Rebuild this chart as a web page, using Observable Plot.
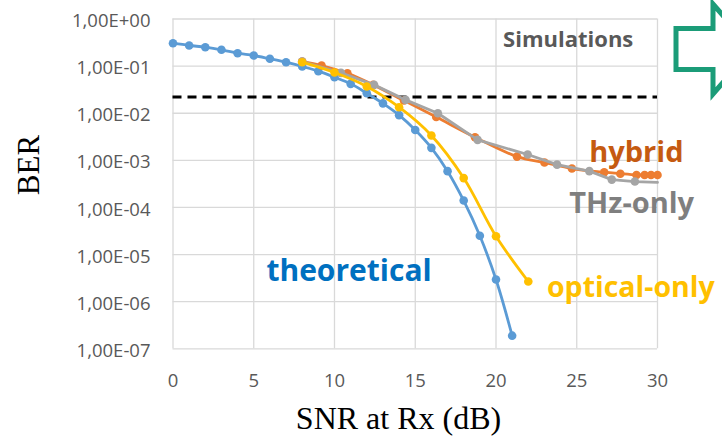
<!DOCTYPE html>
<html><head><meta charset="utf-8">
<script src="https://cdn.jsdelivr.net/npm/d3@7"></script>
<script src="https://cdn.jsdelivr.net/npm/@observablehq/plot@0.6"></script>
<style>
body{margin:0;background:#fff;}
#wrap{position:relative;width:722px;height:437px;overflow:hidden;background:#fff;}
.ttl{position:absolute;font-family:"Liberation Serif","Times New Roman",serif;color:#000;white-space:nowrap;}
#deco{position:absolute;left:0;top:0;pointer-events:none;}
</style></head><body><div id="wrap"></div>
<script>
// ---- data ----
const snrTheo = [0,1,2,3,4,5,6,7,8,9,10,11,12,13,14,15,16,17,18,19,20,21];
const berTheo = [0.306,0.274,0.252,0.222,0.188,0.168,0.143,0.121,0.098,0.078,0.058,0.042,0.0266,0.0162,0.0091,0.0044,0.00184,5.9e-4,1.4e-4,2.5e-5,2.95e-6,1.9e-7];

const snrOpt = [8,10,12,14,16,18,20,22];
const berOpt = [0.121,0.073,0.037,0.0134,0.00336,4.2e-4,2.45e-5,2.68e-6];

const snrThz = [8,10.4,12.45,14.4,16.4,18.86,21.96,23.78,25.78,27.17,28.6,30];
const berThz = [0.125,0.072,0.040,0.0192,0.0100,0.00272,0.00133,8.1e-4,5.9e-4,3.9e-4,3.55e-4,3.4e-4];

const snrHyb = [8,9.2,10.8,12.4,14.3,16.3,18.7,21.3,23,24.7,26.7,27.7,28.7,29.2,29.6,30];
const berHyb = [0.125,0.103,0.07,0.04,0.0186,0.0083,0.0031,0.0012,9.0e-4,6.7e-4,5.6e-4,5.2e-4,4.9e-4,4.9e-4,4.9e-4,4.9e-4];

const berThreshold = 0.022;

const xTicks = [0,5,10,15,20,25,30];
const xTickLabels = ["0","5","10","15","20","25","30"];
const yTicks = [1,1e-1,1e-2,1e-3,1e-4,1e-5,1e-6,1e-7];
const yTickLabels = ["1,00E+00","1,00E-01","1,00E-02","1,00E-03","1,00E-04","1,00E-05","1,00E-06","1,00E-07"];

const seriesLabels = [
  {t:"Simulations", x:24.47, y:0.355, c:"#595959", s:22},
  {t:"hybrid", x:28.69, y:1.42e-3, c:"#C55A11", s:29},
  {t:"THz-only", x:28.4, y:1.21e-4, c:"#7F7F7F", s:29},
  {t:"theoretical", x:10.9, y:4.36e-6, c:"#0070C0", s:30},
  {t:"optical-only", x:28.35, y:1.93e-6, c:"#FFC000", s:28.5}
];

// ---- build ----
const rows = (xs, ys) => xs.map((x,i)=>({x, y: ys[i]}));
const theo = rows(snrTheo, berTheo);
const opt = rows(snrOpt, berOpt);
const thz = rows(snrThz, berThz);
const hyb = rows(snrHyb, berHyb);

const grid = "#d9d9d9";
const chart = Plot.plot({
  width: 722, height: 437,
  marginLeft: 172.5, marginRight: 65, marginTop: 18.5, marginBottom: 88.7,
  x: {domain: [0,30]},
  y: {type: "log", domain: [1e-7, 1]},
  style: {fontFamily: "'Open Sans', sans-serif", fontSize: "18.5px", color: "#595959", background: "transparent", overflow: "visible"},
  marks: [
    Plot.gridX(xTicks, {stroke: grid, strokeOpacity: 1, strokeWidth: 1.3}),
    Plot.gridY(yTicks, {stroke: grid, strokeOpacity: 1, strokeWidth: 1.3}),
    Plot.axisX(xTicks, {tickSize: 0, tickPadding: 25.3, label: null, fill: "#595959",
      tickFormat: d => xTickLabels[xTicks.indexOf(d)]}),
    Plot.axisY(yTicks, {tickSize: 0, tickPadding: 22.5, label: null, fill: "#595959", dy: 2.2,
      tickFormat: d => yTickLabels[yTicks.indexOf(d)]}),
    Plot.ruleY([berThreshold], {x1: 0, x2: 30, stroke: "#000", strokeWidth: 3, strokeDasharray: "9,6"}),
    Plot.line(theo, {x: "x", y: "y", stroke: "#5B9BD5", strokeWidth: 2.8, curve: "catmull-rom"}),
    Plot.dot(theo, {x: "x", y: "y", r: 4.3, fill: "#5B9BD5"}),
    Plot.line(hyb, {x: "x", y: "y", stroke: "#ED7D31", strokeWidth: 2.8, curve: "catmull-rom"}),
    Plot.dot(hyb, {x: "x", y: "y", r: 4.3, fill: "#ED7D31"}),
    Plot.line(thz, {x: "x", y: "y", stroke: "#A5A5A5", strokeWidth: 2.8}),
    Plot.dot(thz.slice(0, -1), {x: "x", y: "y", r: 4.3, fill: "#A5A5A5"}),
    Plot.line(opt, {x: "x", y: "y", stroke: "#FFC000", strokeWidth: 2.8, curve: "catmull-rom"}),
    Plot.dot(opt, {x: "x", y: "y", r: 4.3, fill: "#FFC000"}),
    ...seriesLabels.map(l => Plot.text([l], {x: "x", y: "y", text: "t", fill: l.c, fontSize: l.s, fontWeight: "bold",
      fontFamily: "'Open Sans', sans-serif"}))
  ]
});
const wrap = document.getElementById("wrap");
wrap.appendChild(chart);

// axis titles
const ber = document.createElement("div");
ber.className = "ttl";
ber.textContent = "BER";
Object.assign(ber.style, {left: "-21.5px", top: "149px", width: "100px", height: "32px", lineHeight: "32px",
  fontSize: "31px", textAlign: "center", transform: "rotate(-90deg)"});
wrap.appendChild(ber);

const snr = document.createElement("div");
snr.className = "ttl";
snr.textContent = "SNR at Rx (dB)";
Object.assign(snr.style, {left: "398.5px", top: "401.5px", fontSize: "32px", lineHeight: "32px", transform: "translateX(-50%)"});
wrap.appendChild(snr);

// decorative arrow outline (top-right)
const ns = "http://www.w3.org/2000/svg";
const deco = document.createElementNS(ns, "svg");
deco.setAttribute("id", "deco");
deco.setAttribute("width", "722"); deco.setAttribute("height", "437");
const p = document.createElementNS(ns, "path");
p.setAttribute("d", "M676,28.5 L713,28.5 L713,4 L752,49 L713,94 L713,69.5 L676,69.5 Z");
p.setAttribute("fill", "none"); p.setAttribute("stroke", "#1B9C78"); p.setAttribute("stroke-width", "5");
deco.appendChild(p);
wrap.appendChild(deco);
</script></body></html>
